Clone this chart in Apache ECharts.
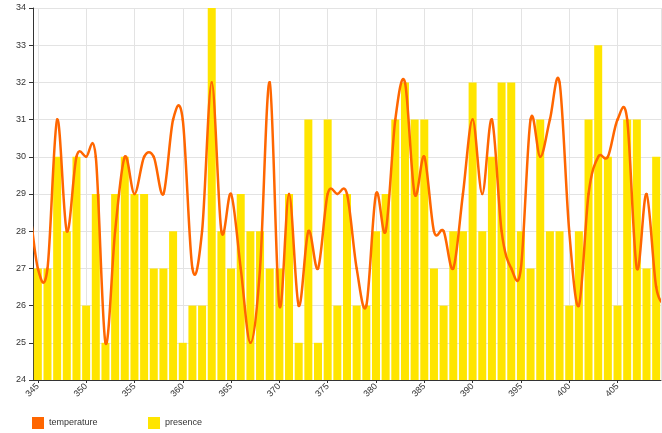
<!DOCTYPE html>
<html>
<head>
<meta charset="utf-8">
<title>temperature / presence</title>
<script src="https://cdn.jsdelivr.net/npm/echarts@6/dist/echarts.min.js"></script>
<style>
  html, body { margin: 0; padding: 0; background: #fff; }
  #chart { width: 662px; height: 433px; }
</style>
</head>
<body>
<div id="chart"></div>
<script>
// 日期（横轴）与柱状数据
const days = [345, 346, 347, 348, 349, 350, 351, 352, 353, 354, 355, 356, 357, 358, 359,
  360, 361, 362, 363, 364, 365, 366, 367, 368, 369, 370, 371, 372, 373, 374,
  375, 376, 377, 378, 379, 380, 381, 382, 383, 384, 385, 386, 387, 388, 389,
  390, 391, 392, 393, 394, 395, 396, 397, 398, 399, 400, 401, 402, 403, 404,
  405, 406, 407, 408, 409];
const presence = [27, 27, 30, 28, 30, 26, 29, 25, 29, 30, 29, 29, 27, 27, 28,
  25, 26, 26, 34, 28, 27, 29, 28, 28, 27, 27, 29, 25, 31, 25,
  31, 26, 29, 26, 26, 28, 29, 31, 32, 31, 31, 27, 26, 28, 28,
  32, 28, 30, 32, 32, 28, 27, 31, 28, 28, 26, 28, 31, 33, 30,
  26, 31, 31, 27, 30];

// 温度曲线：两端各多一个点，被绘图区裁掉
const tempDays = [344, 345, 346, 347, 348, 349, 350, 351, 352, 353, 354, 355, 356, 357, 358, 359,
  360, 361, 362, 363, 364, 365, 366, 367, 368, 369, 370, 371, 372, 373, 374,
  375, 376, 377, 378, 379, 380, 381, 382, 383, 384, 385, 386, 387, 388, 389,
  390, 391, 392, 393, 394, 395, 396, 397, 398, 399, 400, 401, 402, 403, 404,
  405, 406, 407, 408, 409, 410];
const temperature = [29, 27, 27, 31, 28, 30, 30, 30, 25, 28, 30, 29, 30, 30, 29, 31,
  31, 27, 28, 32, 28, 29, 27, 25, 27, 32, 26, 29, 26, 28, 27,
  29, 29, 29, 27, 26, 29, 28, 31, 32, 29, 30, 28, 28, 27, 29,
  31, 29, 31, 28, 27, 27, 31, 30, 31, 32, 28, 26, 29, 30, 30,
  31, 31, 27, 29, 26.5, 26];

const yMin = 24;
const yMax = 34;

const textColor = '#333';
const gridColor = '#e3e3e3';
const lineColor = '#ff6600';
const barColor = '#ffe500';

let mainChart = null;

// Catmull-Rom 曲线段：每个点画到下一个点的一段（ECharts 自带 smooth 会压平平台处的弧度）
function renderTempSegment(params, api) {
  const i = params.dataIndexInside;
  const n = params.dataInsideLength;
  if (i >= n - 1) return null;

  const pt = (k) => {
    const kk = Math.max(0, Math.min(n - 1, k));
    return api.coord([api.value(0, kk), api.value(1, kk)]);
  };
  const p0 = pt(i - 1);
  const p1 = pt(i);
  const p2 = pt(i + 1);
  const p3 = pt(i + 2);

  return {
    type: 'bezierCurve',
    shape: {
      x1: p1[0], y1: p1[1],
      x2: p2[0], y2: p2[1],
      cpx1: p1[0] + (p2[0] - p0[0]) / 6,
      cpy1: p1[1] + (p2[1] - p0[1]) / 6,
      cpx2: p2[0] - (p3[0] - p1[0]) / 6,
      cpy2: p2[1] - (p3[1] - p1[1]) / 6
    },
    style: {
      fill: null,
      stroke: lineColor,
      lineWidth: 2.5,
      lineCap: 'round'
    }
  };
}

function initMainChart() {
  const chartDom = document.getElementById('chart');
  mainChart = echarts.init(chartDom);

  const barData = days.map((d, i) => [d, presence[i]]);
  const lineData = tempDays.map((d, i) => [d, temperature[i]]);

  const option = {
    animation: false,
    backgroundColor: '#fff',
    textStyle: { fontFamily: 'Liberation Sans, Arial, sans-serif' },
    grid: {
      left: 33,
      right: 1,
      top: 8,
      bottom: 53
    },
    // 两个图例分开摆放
    legend: [
      {
        left: 27, top: 412,
        itemWidth: 12, itemHeight: 12,
        icon: 'rect',
        data: ['temperature'],
        textStyle: { color: textColor, fontSize: 9 }
      },
      {
        left: 143, top: 412,
        itemWidth: 12, itemHeight: 12,
        icon: 'rect',
        data: ['presence'],
        textStyle: { color: textColor, fontSize: 9 }
      }
    ],
    xAxis: {
      type: 'value',
      min: days[0] - 0.5,
      max: days[days.length - 1] + 0.5,
      splitNumber: 13,
      axisLine: { show: true, onZero: false, lineStyle: { color: '#333' } },
      axisTick: { show: true, length: 3, lineStyle: { color: '#333' } },
      axisLabel: {
        color: textColor,
        fontSize: 9,
        rotate: 45,
        margin: 5,
        showMinLabel: false,
        showMaxLabel: false
      },
      splitLine: { show: true, lineStyle: { color: gridColor } }
    },
    yAxis: {
      type: 'value',
      min: yMin,
      max: yMax,
      interval: 1,
      axisLine: { show: true, lineStyle: { color: '#333' } },
      axisTick: { show: true, length: 4, lineStyle: { color: '#333' } },
      axisLabel: { color: textColor, fontSize: 9, margin: 7 },
      splitLine: { show: true, lineStyle: { color: gridColor } }
    },
    series: [
      {
        name: 'presence',
        type: 'bar',
        data: barData,
        barWidth: 8,
        itemStyle: { color: barColor }
      },
      {
        name: 'temperature',
        type: 'custom',
        data: lineData,
        renderItem: renderTempSegment,
        clip: true,
        z: 3,
        itemStyle: { color: lineColor }
      }
    ]
  };

  mainChart.setOption(option);
}

initMainChart();
</script>
</body>
</html>
